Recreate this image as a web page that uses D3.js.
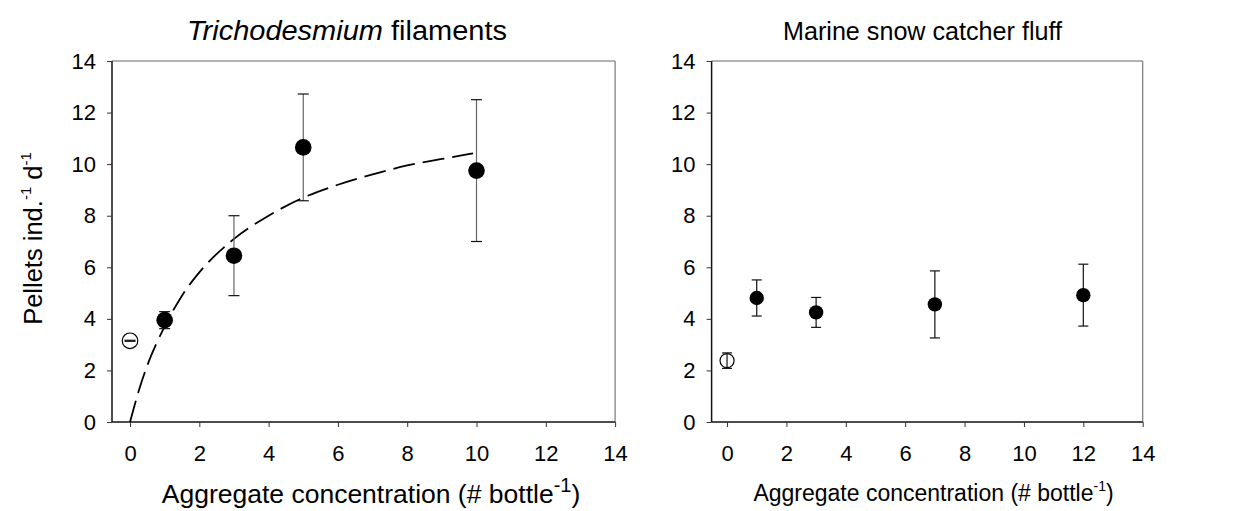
<!DOCTYPE html>
<html lang="en">
<head>
  <meta charset="UTF-8">
  <title>Pellet production vs aggregate concentration</title>
  <script src="https://d3js.org/d3.v7.min.js"></script>
  <style>
    body { margin: 0; background: #fff; font-family: Arial, "Liberation Sans", sans-serif; }
    svg text { fill: #000; }
  </style>
</head>
<body>
<div id="chart"></div>
<script>
  const width = 1250;
  const height = 511;

  // axis ticks (both panels)
  const xTicks = [0, 2, 4, 6, 8, 10, 12, 14];
  const yTicks = [0, 2, 4, 6, 8, 10, 12, 14];

  // Trichodesmium filaments
  const trichoConc = [1, 3, 5, 10];
  const trichoMean = [3.95, 6.45, 10.65, 9.75];
  const trichoErr  = [0.33, 1.55, 2.07, 2.75];
  const trichoCtrl = { conc: 0, mean: 3.15, err: 0.02 };
  // fitted saturation curve
  const fitX = [0, 0.25, 0.5, 1, 1.5, 2, 3, 4, 5, 6, 7, 8, 9, 9.9];
  const fitY = [0, 1.2, 2.2, 3.7, 4.9, 5.8, 7.1, 8.0, 8.7, 9.2, 9.6, 9.95, 10.2, 10.42];

  // Marine snow catcher fluff
  const fluffConc = [1, 3, 7, 12];
  const fluffMean = [4.81, 4.25, 4.56, 4.92];
  const fluffErr  = [0.7, 0.58, 1.3, 1.2];
  const fluffCtrl = { conc: 0, mean: 2.38, err: 0.3 };

  const svg = d3.select("#chart").append("svg")
    .attr("width", width)
    .attr("height", height);

  const y = d3.scaleLinear().domain([0, 14]).range([422, 61]);

  function panel(opts) {
    const x = d3.scaleLinear().domain([-0.52, 14]).range([opts.left, opts.right]);
    const g = svg.append("g");

    // frame: top and right in gray
    g.append("line")
      .attr("x1", x(-0.52)).attr("x2", x(14)).attr("y1", y(14)).attr("y2", y(14))
      .attr("stroke", "#666").attr("stroke-width", 1.2);
    g.append("line")
      .attr("x1", x(14)).attr("x2", x(14)).attr("y1", y(14)).attr("y2", y(0))
      .attr("stroke", "#777").attr("stroke-width", 1.2);

    // y axis
    const ya = g.append("g")
      .attr("transform", `translate(${x(-0.52)},0)`)
      .call(d3.axisLeft(y).tickValues(yTicks).tickSize(5).tickPadding(11).tickFormat(d3.format("d")));
    // x axis
    const xa = g.append("g")
      .attr("transform", `translate(0,${y(0)})`)
      .call(d3.axisBottom(x).tickValues(xTicks).tickSize(5).tickPadding(18).tickFormat(d3.format("d")));

    [ya, xa].forEach(a => {
      a.select(".domain").attr("stroke", "#111").attr("stroke-width", 1.5);
      a.selectAll(".tick line").attr("stroke", "#333").attr("stroke-width", 1);
      a.selectAll(".tick text")
        .attr("font-family", "Arial, 'Liberation Sans', sans-serif")
        .attr("font-size", 22)
        .attr("fill", "#000");
    });
    ya.select(".domain").attr("d", `M0,${y(14)}V${y(0)}`);
    xa.select(".domain").attr("d", `M${x(-0.52)},0H${x(14)}`);

    // fitted curve
    if (opts.fit) {
      const line = d3.line()
        .x((d, i) => x(fitX[i]))
        .y(d => y(d))
        .curve(d3.curveMonotoneX);
      g.append("path")
        .datum(fitY)
        .attr("d", line)
        .attr("fill", "none")
        .attr("stroke", "#000")
        .attr("stroke-width", 1.8)
        .attr("stroke-dasharray", "22,8");
    }

    // control (open) marker
    g.append("circle")
      .attr("cx", x(opts.ctrl.conc)).attr("cy", y(opts.ctrl.mean))
      .attr("r", opts.rOpen)
      .attr("fill", "#fff").attr("stroke", "#000").attr("stroke-width", 1.2);

    // error bars
    const pts = opts.conc.map((c, i) => ({ c: c, m: opts.mean[i], e: opts.err[i] }));
    const all = [{ c: opts.ctrl.conc, m: opts.ctrl.mean, e: opts.ctrl.err }].concat(pts);
    const cap = opts.cap;
    const eb = g.append("g").selectAll("g").data(all).join("g");
    eb.append("line")
      .attr("x1", d => x(d.c)).attr("x2", d => x(d.c))
      .attr("y1", d => y(d.m + d.e)).attr("y2", d => y(d.m - d.e))
      .attr("stroke", opts.stemColor).attr("stroke-width", 1.2);
    eb.append("line")
      .attr("x1", d => x(d.c) - cap).attr("x2", d => x(d.c) + cap)
      .attr("y1", d => y(d.m + d.e)).attr("y2", d => y(d.m + d.e))
      .attr("stroke", "#111").attr("stroke-width", 1.2);
    eb.append("line")
      .attr("x1", d => x(d.c) - cap).attr("x2", d => x(d.c) + cap)
      .attr("y1", d => y(d.m - d.e)).attr("y2", d => y(d.m - d.e))
      .attr("stroke", "#111").attr("stroke-width", 1.2);

    // filled markers
    g.append("g").selectAll("circle").data(pts).join("circle")
      .attr("cx", d => x(d.c)).attr("cy", d => y(d.m))
      .attr("r", opts.r)
      .attr("fill", "#000");

    // title
    const t = svg.append("text")
      .attr("x", opts.titleX).attr("y", opts.titleY)
      .attr("text-anchor", "middle")
      .attr("font-size", opts.titleSize)
      .attr("textLength", opts.titleLen)
      .attr("lengthAdjust", "spacingAndGlyphs");
    opts.title(t);

    // x label
    const xl = svg.append("text")
      .attr("x", opts.xlabX).attr("y", opts.xlabY)
      .attr("text-anchor", "middle")
      .attr("font-size", opts.xlabSize);
    xl.append("tspan").text("Aggregate concentration (# bottle");
    xl.append("tspan").attr("font-size", opts.supSize).attr("dy", -opts.supRise).text("-1");
    xl.append("tspan").attr("dy", opts.supRise).text(")");
  }

  panel({
    left: 112, right: 615.1,
    conc: trichoConc, mean: trichoMean, err: trichoErr, ctrl: trichoCtrl,
    fit: true, r: 8.3, rOpen: 7.8, cap: 5.5, stemColor: "#666",
    titleX: 347, titleY: 40, titleSize: 27, titleLen: 320,
    title: t => {
      t.append("tspan").attr("font-style", "italic").text("Trichodesmium");
      t.append("tspan").text(" filaments");
    },
    xlabX: 371, xlabY: 503, xlabSize: 26.5, supSize: 20, supRise: 11
  });

  panel({
    left: 711.6, right: 1142.7,
    conc: fluffConc, mean: fluffMean, err: fluffErr, ctrl: fluffCtrl,
    fit: false, r: 7.2, rOpen: 7, cap: 5, stemColor: "#111",
    titleX: 922.5, titleY: 40, titleSize: 25, titleLen: 279,
    title: t => t.text("Marine snow catcher fluff"),
    xlabX: 933.5, xlabY: 501, xlabSize: 23, supSize: 14, supRise: 10
  });

  // y label (left panel only)
  const yl = svg.append("text")
    .attr("transform", "translate(41.5,238.5) rotate(-90)")
    .attr("text-anchor", "middle")
    .attr("font-size", 25.5);
  yl.append("tspan").text("Pellets ind.");
  yl.append("tspan").attr("font-size", 15).attr("dy", -11).text("-1");
  yl.append("tspan").attr("dy", 11).text(" d");
  yl.append("tspan").attr("font-size", 15).attr("dy", -11).text("-1");
</script>
</body>
</html>
